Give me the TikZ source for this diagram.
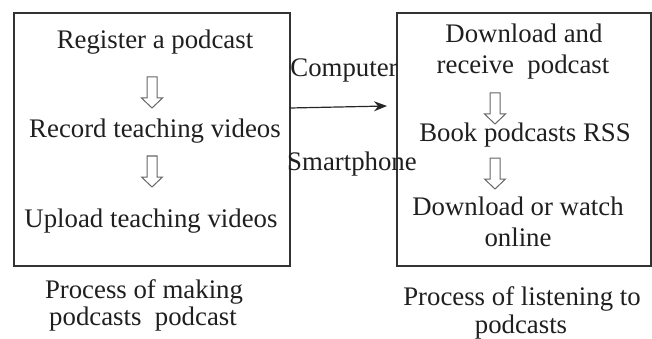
\documentclass[tikz,border=0pt]{standalone}
\usepackage{fontspec}
\setmainfont{Liberation Serif}
\usetikzlibrary{arrows.meta}
\begin{document}
\begin{tikzpicture}[x=1pt,y=-1pt,
  lbl/.style={inner sep=0pt,anchor=base,text=black!88,font=\fontsize{26.8}{30}\selectfont},
  panel/.style={draw=black!80,line width=1.2pt,inner sep=0pt,outer sep=0pt},
  arrowline/.style={draw=black!60,line width=1pt,fill=white},
  hollowarrow/.pic={\draw[arrowline] (-5,0) -- (-5,21) -- (-10.5,21) -- (0,31) -- (10.5,21) -- (5,21) -- (5,0) -- cycle;}]
\useasboundingbox (0,0) rectangle (652,339);
% boxes
\node[panel,minimum width=276pt,minimum height=253pt] (left) at (152,139.5) {};
\node[panel,minimum width=254pt,minimum height=253pt] (right) at (524,139.5) {};
% left texts
\node[lbl] (l1) at (155,49) {Register a podcast};
\pic at (152,77) {hollowarrow};
\node[lbl] (l2) at (155,138) {Record teaching videos};
\pic at (152,156) {hollowarrow};
\node[lbl] (l3) at (151,227) {Upload teaching videos};
\node[lbl] (lc1) at (144,298) {Process of making};
\node[lbl] (lc2) at (143,325) {podcasts\ \ podcast};
% right texts
\node[lbl] (r1) at (524,43) {Download and};
\node[lbl] (r2) at (523,74) {receive\ \ podcast};
\pic at (495,93) {hollowarrow};
\node[lbl] (r3) at (525,142) {Book podcasts RSS};
\pic at (495,158) {hollowarrow};
\node[lbl] (r4) at (518,215) {Download or watch};
\node[lbl] (r5) at (518,246) {online};
\node[lbl] (rc1) at (522,305) {Process of listening to};
\node[lbl] (rc2) at (521,333) {podcasts};
% connector
\node[lbl] (comp) at (344,77) {Computer};
\node[lbl] (smart) at (352,170) {Smartphone};
\coordinate (aend) at (387,106);
\draw[black!85,line width=1.2pt,-{Stealth[length=13pt,width=10pt]}] (left.east |- 0,108) -- (aend);
\end{tikzpicture}
\end{document}
